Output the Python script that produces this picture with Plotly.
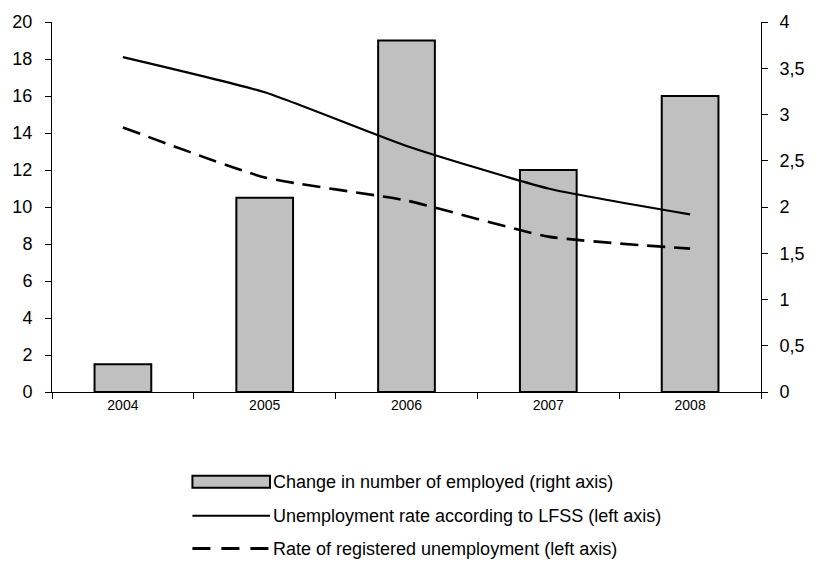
import plotly.graph_objects as go

# Data
years = ["2004", "2005", "2006", "2007", "2008"]
employed_change = [0.3, 2.1, 3.8, 2.4, 3.2]          # right axis
lfss_rate = [18.1, 16.2, 13.3, 11.0, 9.6]           # left axis
registered_rate = [14.3, 11.6, 10.35, 8.4, 7.75]    # left axis

left_ticks = [0, 2, 4, 6, 8, 10, 12, 14, 16, 18, 20]
right_ticks = [0, 0.5, 1, 1.5, 2, 2.5, 3, 3.5, 4]
right_tick_text = ["0", "0,5", "1", "1,5", "2", "2,5", "3", "3,5", "4"]

names = [
    "Change in number of employed (right axis)",
    "Unemployment rate according to LFSS (left axis)",
    "Rate of registered unemployment (left axis)",
]

FONT = "Liberation Sans, Arial, sans-serif"

W, H = 817, 563
M_L, M_R, M_T, M_B = 50, 45, 21, 171
PLOT_W = W - M_L - M_R
PLOT_H = H - M_T - M_B

fig = go.Figure()

# Bars live on the primary (right-side) axis so the lines are drawn over them
fig.add_trace(go.Bar(
    x=years, y=employed_change, name=names[0], yaxis="y",
    marker=dict(color="#c0c0c0", line=dict(color="black", width=2)),
    width=0.4, showlegend=False,
))
fig.add_trace(go.Scatter(
    x=years, y=lfss_rate, name=names[1], yaxis="y2", mode="lines",
    line=dict(color="black", width=2.2, shape="spline", smoothing=0.5),
    showlegend=False,
))
fig.add_trace(go.Scatter(
    x=years, y=registered_rate, name=names[2], yaxis="y2", mode="lines",
    line=dict(color="black", width=2.6, dash="18px,9px", shape="spline", smoothing=0.5),
    showlegend=False,
))

axis_common = dict(
    showgrid=False, zeroline=False, showline=True, linecolor="black", linewidth=1,
    ticks="outside", ticklen=6, tickcolor="black", tickwidth=1,
    tickfont=dict(family=FONT, size=18, color="black"),
)

fig.update_layout(
    width=W, height=H,
    margin=dict(l=M_L, r=M_R, t=M_T, b=M_B),
    paper_bgcolor="white", plot_bgcolor="white",
    xaxis=dict(
        type="category", tickson="boundaries",
        showgrid=False, zeroline=False, showline=True, linecolor="black", linewidth=1,
        ticks="outside", ticklen=6, tickcolor="black",
        tickfont=dict(family=FONT, size=14, color="black"),
        range=[-0.5, 4.5],
    ),
    yaxis=dict(
        side="right", range=[0, 4], tickvals=right_ticks, ticktext=right_tick_text,
        ticklabelstandoff=8, **axis_common,
    ),
    yaxis2=dict(
        side="left", overlaying="y", range=[0, 20], tickvals=left_ticks,
        ticklabelstandoff=9, **axis_common,
    ),
)

# Legend drawn below the plot with wide symbols (pixel positions -> paper coords)
def px(x):
    return (x - M_L) / PLOT_W

def py(y):
    return (H - M_B - y) / PLOT_H

sym_x0, sym_x1 = 193, 272
rows_y = [482, 516, 549]

fig.add_shape(type="rect", xref="paper", yref="paper",
              x0=px(sym_x0), x1=px(sym_x1), y0=py(rows_y[0] - 6), y1=py(rows_y[0] + 6),
              fillcolor="#c0c0c0", line=dict(color="black", width=2))
fig.add_shape(type="line", xref="paper", yref="paper",
              x0=px(sym_x0), x1=px(sym_x1), y0=py(rows_y[1]), y1=py(rows_y[1]),
              line=dict(color="black", width=2))
fig.add_shape(type="line", xref="paper", yref="paper",
              x0=px(sym_x0), x1=px(sym_x1), y0=py(rows_y[2]), y1=py(rows_y[2]),
              line=dict(color="black", width=3, dash="18px,11px"))

for name, y in zip(names, rows_y):
    fig.add_annotation(
        text=name, xref="paper", yref="paper", x=px(sym_x1 + 1), y=py(y),
        xanchor="left", yanchor="middle", showarrow=False,
        font=dict(family=FONT, size=18, color="black"),
    )

fig.write_html("out.html")
